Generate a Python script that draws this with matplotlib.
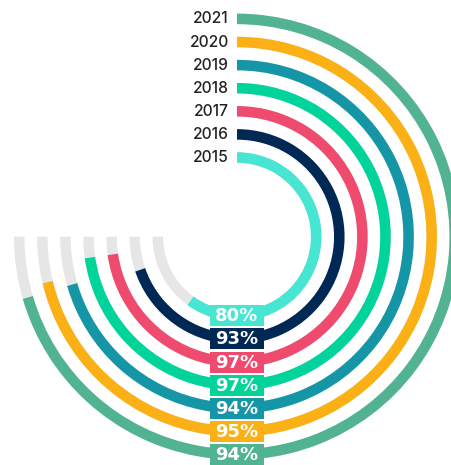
import matplotlib
matplotlib.use("Agg")
import matplotlib.pyplot as plt
from matplotlib.patches import Wedge, Rectangle

years = ["2015", "2016", "2017", "2018", "2019", "2020", "2021"]
values = [80, 93, 97, 97, 94, 95, 94]
colors = ["#46e6d2", "#002855", "#ee4b6e", "#00d49b", "#1596a6", "#fbb116", "#52b392"]
track_color = "#e6e6e6"

W, H = 451, 465
fig = plt.figure(figsize=(W / 100, H / 100), dpi=100)
ax = fig.add_axes([0, 0, 1, 1])
ax.set_xlim(0, W)
ax.set_ylim(0, H)
ax.set_aspect("equal")
ax.axis("off")

cx, cy = 237, H - 236.7
r0, step, lw = 79.2, 23.1, 10.5
max_sweep = 270.0

for i, (yr, v, c) in enumerate(zip(years, values, colors)):
    r = r0 + i * step
    ax.add_patch(Wedge((cx, cy), r + lw / 2, 180, 450, width=lw, facecolor=track_color, edgecolor="none"))
    ax.add_patch(Wedge((cx, cy), r + lw / 2, 90 - v / 100 * max_sweep, 90, width=lw, facecolor=c, edgecolor="none"))
    ax.text(cx - 8, cy + r, yr, ha="right", va="center", fontsize=11.2, color="#222222",
            family="Inter", fontweight="medium")
    bw, bh = 54, 21
    ax.add_patch(Rectangle((cx - bw / 2, cy - r - bh / 2), bw, bh, facecolor=c, edgecolor="none", zorder=3))
    ax.text(cx, cy - r - 0.5, f"{v}%", ha="center", va="center", fontsize=13, color="white",
            family="DejaVu Sans", fontweight="bold", zorder=4)

fig.savefig("out.png", dpi=100)
